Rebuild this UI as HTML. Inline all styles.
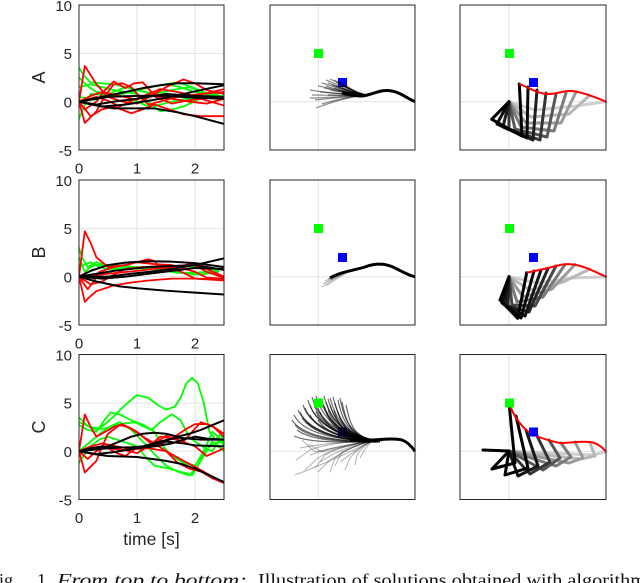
<!DOCTYPE html>
<html><head><meta charset="utf-8"><style>
html,body{margin:0;padding:0;background:#fff;}
svg{display:block;}
.tk{font-family:"Liberation Sans",Arial,sans-serif;font-size:15px;fill:#262626;}
.lb{font-family:"Liberation Sans",Arial,sans-serif;font-size:18px;fill:#262626;}
.cap{font-family:"Liberation Serif","Times New Roman",serif;font-size:18px;fill:#111;}
.box{fill:none;stroke:#262626;stroke-width:1;}
.gr{stroke:#e2e2e2;stroke-width:1;}
.d polyline{fill:none;vector-effect:non-scaling-stroke;stroke-linejoin:round;stroke-linecap:round;}
.g polyline{stroke:#00ff00;stroke-width:1.8;}
.r polyline{stroke:#ff0000;stroke-width:1.8;}
.k polyline{stroke:#000;stroke-width:2;}
.fan path{fill:none;stroke:#000;stroke-width:1.2;stroke-opacity:.45;}
.fanC path{fill:none;stroke:#000;stroke-width:1.2;stroke-opacity:.58;}
.fl path{fill:none;stroke:#000;stroke-width:1;stroke-opacity:.3;}
.arm polyline{fill:none;stroke-width:3;stroke-linejoin:round;stroke-linecap:round;}
</style></head><body>
<svg width="640" height="583" viewBox="0 0 640 583" xmlns="http://www.w3.org/2000/svg">
<defs>
<clipPath id="cA"><rect x="79" y="5" width="145" height="145"/></clipPath>
<clipPath id="cB"><rect x="79" y="180" width="145" height="145"/></clipPath>
<clipPath id="cC"><rect x="79" y="354.5" width="145" height="145"/></clipPath>
</defs>

<!-- ================= LEFT PANELS ================= -->
<!-- Row A -->
<g>
<line class="gr" x1="137" y1="5" x2="137" y2="150"/><line class="gr" x1="195" y1="5" x2="195" y2="150"/>
<line class="gr" x1="79" y1="53.33" x2="224" y2="53.33"/><line class="gr" x1="79" y1="101.67" x2="224" y2="101.67"/>
<g clip-path="url(#cA)"><g class="d" transform="translate(79,101.67) scale(58,-9.667)">
<g class="g">
<polyline points="0,3.5 0.1,2.6 0.2,2.0 0.4,1.9 0.6,1.8 0.8,1.5 1.0,1.2 1.25,1.5 1.5,1.8 1.7,2.0 1.95,1.5 2.2,0.8 2.35,0.3 2.5,0.3"/>
<polyline points="0,2.5 0.15,1.6 0.3,1.0 0.55,0.8 0.8,0.5 1.0,0 1.2,-0.5 1.4,-0.3 1.6,0 1.85,0.3 2.1,0.5 2.3,0.7 2.5,1.0"/>
<polyline points="0,1.5 0.2,1.8 0.4,1.5 0.6,1.2 0.8,1.0 1.0,0.8 1.2,0 1.4,-1.0 1.6,-0.8 1.8,-0.5 2.05,0.2 2.3,0.8 2.5,0.5"/>
<polyline points="0,-1.8 0.1,-0.3 0.2,0.8 0.4,0.7 0.6,0.6 0.9,1.0 1.2,1.5 1.5,1.8 1.75,1.5 2.0,1.0 2.25,0.7 2.5,0.5"/>
<polyline points="0,0.5 0.3,0.2 0.55,0.9 0.8,1.5 1.05,1.1 1.3,0.8 1.6,1.2 1.9,1.5 2.15,1.0 2.4,0.5 2.5,0.6"/>
</g>
<g class="r">
<polyline points="0,0 0.1,3.7 0.3,1.8 0.5,0.5 0.75,0 1.0,-0.2 1.25,0.6 1.5,1.5 1.8,2.3 2.0,1.9 2.2,1.2 2.5,0.8"/>
<polyline points="0,0 0.1,-2.2 0.3,-1.0 0.45,0.6 0.6,1.8 0.75,1.9 0.9,1.5 1.05,0.5 1.2,-0.3 1.45,0.1 1.7,0.5 2.1,0.8 2.5,1.0"/>
<polyline points="0,0 0.1,-0.8 0.3,0 0.45,1.2 0.6,2.1 0.8,1.4 0.95,1.9 1.1,2.0 1.25,1.0 1.4,0.5 1.9,0 2.2,-0.2 2.5,0.3"/>
<polyline points="0,0 0.2,-1.5 0.4,-0.8 0.6,-0.5 0.9,-1.2 1.1,-0.8 1.3,-0.3 1.55,-0.8 1.8,-1.3 2.1,-1.5 2.5,-1.5"/>
<polyline points="0,0 0.3,0.5 0.5,0.1 0.7,-0.5 0.95,0.2 1.2,0.8 1.4,0.3 1.6,-0.2 1.85,0.1 2.1,0.3 2.5,-0.4"/>
<polyline points="0,0 0.2,0.6 0.4,1.0 0.7,0.6 1.0,0.2 1.2,0.8 1.4,1.3 1.7,1.0 2.0,0.6 2.3,1.0 2.5,1.3"/>
</g>
<g class="k">
<polyline points="0,0 0.4,0.5 0.8,1.0 1.1,1.4 1.4,1.7 1.7,1.9 2.0,1.9 2.5,1.8"/>
<polyline points="0,0 0.4,-0.5 0.8,-0.3 1.2,0.1 1.5,0.4 1.8,0.8 2.1,1.2 2.5,1.7"/>
<polyline points="0,0 0.3,-0.4 0.6,-0.7 1.3,-0.7 1.7,-1.1 2.0,-1.5 2.5,-2.3"/>
<polyline points="0,0 0.5,0.5 1.0,0.6 1.5,0.6 2.0,0.4 2.5,0.3"/>
<polyline points="0,0 0.3,-0.3 0.6,0 1.0,0.3 1.5,0.8 2.0,0.6 2.5,0.5"/>
</g>
</g></g>
<rect class="box" x="79" y="5" width="145" height="145"/>
<text class="tk" x="72" y="10.8" text-anchor="end">10</text>
<text class="tk" x="72" y="59.1" text-anchor="end">5</text>
<text class="tk" x="72" y="107.4" text-anchor="end">0</text>
<text class="tk" x="72" y="155.8" text-anchor="end">-5</text>
<text class="tk" x="79" y="173.5" text-anchor="middle">0</text>
<text class="tk" x="137" y="173.5" text-anchor="middle">1</text>
<text class="tk" x="195" y="173.5" text-anchor="middle">2</text>
<text class="lb" transform="translate(45,77.5) rotate(-90)" text-anchor="middle">A</text>
</g>

<!-- Row B -->
<g>
<line class="gr" x1="137" y1="180" x2="137" y2="325"/><line class="gr" x1="195" y1="180" x2="195" y2="325"/>
<line class="gr" x1="79" y1="228.33" x2="224" y2="228.33"/><line class="gr" x1="79" y1="276.67" x2="224" y2="276.67"/>
<g clip-path="url(#cB)"><g class="d" transform="translate(79,276.67) scale(58,-9.667)">
<g class="g">
<polyline points="0,3.0 0.05,2.0 0.15,1.0 0.3,1.5 0.45,1.2 0.6,1.0 0.9,1.0 1.2,1.0 1.6,0.6 2.0,0.2 2.2,0.3 2.4,0.5"/>
<polyline points="0,2.0 0.1,0.5 0.2,1.0 0.3,1.2 0.5,1.2 0.8,1.1 1.1,0.9 1.4,0.8 1.8,1.1 2.1,0.9 2.4,0.7"/>
<polyline points="0,1.0 0.2,1.5 0.35,1.0 0.5,0.8 0.8,0.8 1.2,0.9 1.5,0.6 1.7,0.4 2.0,0.4 2.4,0.6"/>
</g>
<g class="r">
<polyline points="0,0 0.1,4.7 0.2,3.5 0.3,2.0 0.5,1.0 0.8,1.2 1.0,1.5 1.2,1.8 1.3,1.6 1.45,0.5 1.7,1.0 1.9,1.3 2.2,0.8 2.5,0"/>
<polyline points="0,0 0.1,-2.6 0.2,-2.0 0.3,-1.5 0.6,-0.9 0.9,-0.6 1.2,-0.4 1.6,-0.2 2.0,-0.2 2.5,-0.3"/>
<polyline points="0,0 0.15,-1.3 0.25,-0.5 0.35,0.5 0.6,1.0 0.8,1.2 1.0,1.5 1.3,1.3 1.6,1.2 2.0,0.5 2.2,-0.1 2.5,-0.2"/>
<polyline points="0,0 0.2,-0.8 0.4,-0.5 0.6,0.2 0.8,0.8 1.1,1.0 1.5,1.1 1.8,0.4 2.0,-0.2 2.5,-0.4"/>
<polyline points="0,0 0.5,0.3 1.0,0.6 1.4,0.9 1.7,1.0 2.0,1.2 2.2,0.5 2.5,-0.1"/>
</g>
<g class="k">
<polyline points="0,0 0.5,0 0.9,0.3 1.2,0.5 1.6,0.8 2.0,1.2 2.5,1.9"/>
<polyline points="0,0 0.2,0.6 0.5,1.2 0.8,1.45 1.2,1.6 1.6,1.55 2.0,1.4 2.5,1.0"/>
<polyline points="0,0 0.3,0.3 0.6,0.6 0.9,0.8 1.2,1.0 1.6,1.1 2.0,1.2 2.5,0.7"/>
<polyline points="0,0 0.3,-0.5 0.7,-1.0 1.0,-1.2 1.5,-1.45 2.0,-1.65 2.5,-1.85"/>
<polyline points="0,0 0.4,-0.2 0.8,0 1.2,0.3 1.6,0.6 2.0,0.9 2.5,0.8"/>
</g>
</g></g>
<rect class="box" x="79" y="180" width="145" height="145"/>
<text class="tk" x="72" y="185.8" text-anchor="end">10</text>
<text class="tk" x="72" y="234.1" text-anchor="end">5</text>
<text class="tk" x="72" y="282.4" text-anchor="end">0</text>
<text class="tk" x="72" y="330.8" text-anchor="end">-5</text>
<text class="tk" x="79" y="348.5" text-anchor="middle">0</text>
<text class="tk" x="137" y="348.5" text-anchor="middle">1</text>
<text class="tk" x="195" y="348.5" text-anchor="middle">2</text>
<text class="lb" transform="translate(45,252.5) rotate(-90)" text-anchor="middle">B</text>
</g>

<!-- Row C -->
<g>
<line class="gr" x1="137" y1="354.5" x2="137" y2="499.5"/><line class="gr" x1="195" y1="354.5" x2="195" y2="499.5"/>
<line class="gr" x1="79" y1="402.83" x2="224" y2="402.83"/><line class="gr" x1="79" y1="451.17" x2="224" y2="451.17"/>
<g clip-path="url(#cC)"><g class="d" transform="translate(79,451.17) scale(58,-9.667)">
<g class="g">
<polyline points="0,3.5 0.15,2.6 0.3,2.2 0.45,2.8 0.6,3.6 0.8,4.8 1.0,5.8 1.2,5.5 1.35,4.8 1.5,4.3 1.65,4.6 1.75,5.5 1.85,7.0 1.95,7.6 2.05,7.0 2.15,5.0 2.25,2.0 2.35,1.2 2.45,1.8 2.5,0.8"/>
<polyline points="0,2.7 0.15,2.2 0.3,2.0 0.45,3.3 0.55,4.0 0.7,3.8 0.9,3.2 1.1,2.6 1.25,2.2 1.4,3.0 1.6,3.8 1.75,3.2 1.9,1.5 2.0,1.0 2.2,0.2 2.3,0 2.4,1.0 2.5,1.5"/>
<polyline points="0,3.0 0.2,2.5 0.4,2.3 0.6,2.6 0.8,2.9 1.0,3.0 1.15,2.6 1.3,2.0 1.45,0.5 1.6,-0.5 1.8,-1.2 2.0,-1.5 2.15,0 2.3,2.0 2.4,1.5 2.5,0.5"/>
<polyline points="0,-1.2 0.1,-0.3 0.2,0.5 0.35,1.2 0.5,1.5 0.75,1.0 1.0,0.5 1.15,-0.6 1.3,-1.5 1.55,-1.8 1.8,-2.2 1.95,-2.5 2.05,-1.5 2.2,0 2.3,1.0 2.5,0"/>
<polyline points="0,0 0.2,1.0 0.4,2.0 0.55,2.6 0.7,3.0 0.9,2.2 1.1,1.0 1.3,-0.3 1.5,-1.5 1.7,-2.1 1.9,-2.5 2.05,-1.5 2.2,0.5 2.35,0.8 2.5,1.0"/>
</g>
<g class="r">
<polyline points="0,0 0.1,3.8 0.2,2.5 0.3,1.5 0.45,2.0 0.6,2.5 0.75,2.8 0.9,2.3 1.1,1.5 1.3,0.8 1.5,0 1.8,-1.0 2.0,-1.6 2.2,-2.3 2.5,-3.3"/>
<polyline points="0,0 0.1,-2.2 0.3,-1.0 0.4,0.5 0.5,1.8 0.7,2.7 0.85,2.5 1.0,2.0 1.2,1.0 1.35,0.5 1.5,1.0 1.65,1.5 1.85,2.3 2.0,2.8 2.2,2.8 2.35,2.4 2.5,1.8"/>
<polyline points="0,0 0.15,-0.8 0.3,0 0.45,0.5 0.65,-0.2 0.8,-0.5 1.0,0.4 1.2,0.3 1.5,0 1.7,-1.2 1.9,-1.8 2.1,-2.1 2.3,-2.8 2.5,-3.3"/>
<polyline points="0,0 0.3,0.2 0.5,0.3 0.8,0.1 1.0,-0.2 1.2,0.5 1.4,1.5 1.6,1.3 1.8,1.0 1.95,2.0 2.1,3.0 2.3,2.6 2.5,1.5"/>
<polyline points="0,0 0.2,0.5 0.4,0.8 0.65,0.5 0.9,0.2 1.2,0.3 1.35,1.0 1.5,1.6 1.7,1.2 2.0,0.5 2.2,-0.5 2.35,-0.1 2.5,0.3"/>
</g>
<g class="k">
<polyline points="0,0 0.3,0.2 0.5,0.5 0.7,1.0 0.9,1.5 1.1,1.8 1.3,1.9 1.5,1.8 1.7,1.5 1.9,1.8 2.1,2.2 2.3,2.7 2.5,3.2"/>
<polyline points="0,0 0.25,-0.3 0.5,-0.5 0.75,-0.55 1.0,-0.6 1.25,-0.8 1.5,-1.0 1.75,-1.3 2.0,-1.8 2.25,-2.5 2.5,-3.2"/>
<polyline points="0,0 0.3,0.2 0.6,0.35 0.9,0.4 1.1,0.5 1.4,1.0 1.7,1.4 1.9,1.3 2.1,1.2 2.5,1.2"/>
<polyline points="0,0 0.3,-0.3 0.6,-0.1 1.0,0.3 1.3,0.7 1.5,1.0 1.8,0.8 2.0,0.6 2.5,0.5"/>
<polyline points="0,0 0.2,0.3 0.4,0.5 0.7,0.4 1.0,0.3 1.3,0.5 1.6,0.8 1.8,1.2 2.0,1.5 2.2,1.3 2.5,1.2"/>
</g>
</g></g>
<rect class="box" x="79" y="354.5" width="145" height="145"/>
<text class="tk" x="72" y="360.3" text-anchor="end">10</text>
<text class="tk" x="72" y="408.6" text-anchor="end">5</text>
<text class="tk" x="72" y="456.9" text-anchor="end">0</text>
<text class="tk" x="72" y="505.3" text-anchor="end">-5</text>
<text class="tk" x="79" y="523" text-anchor="middle">0</text>
<text class="tk" x="137" y="523" text-anchor="middle">1</text>
<text class="tk" x="195" y="523" text-anchor="middle">2</text>
<text class="lb" transform="translate(45,427) rotate(-90)" text-anchor="middle">C</text>
<text class="tk" x="151.5" y="545" text-anchor="middle" style="font-size:17.5px">time [s]</text>
</g>

<!-- ================= MIDDLE PANELS ================= -->
<!-- A -->
<line class="gr" x1="318.3" y1="5" x2="318.3" y2="150"/><line class="gr" x1="270" y1="101.7" x2="415" y2="101.7"/>
<rect x="314" y="49" width="9" height="9" fill="#00ff00"/>
<rect x="338" y="78" width="9" height="9" fill="#0000ff"/>
<g class="fan">
<path d="M310 90 C322 92 348 95 368 95"/><path d="M312 95 C324 95 348 96 368 95"/><path d="M315 100 C326 99 350 96 368 95"/>
<path d="M318 86 C330 88 350 94 368 95"/><path d="M322 83 C334 86 352 94 368 95"/><path d="M326 80 C338 84 352 94 368 95"/>
<path d="M330 79 C340 83 354 94 368 95"/><path d="M334 80 C343 84 355 94 368 95"/><path d="M338 82 C346 86 356 94 368 95"/>
<path d="M310 98 C324 98 350 96 368 95"/><path d="M320 92 C332 93 350 95 368 95"/><path d="M322 104 C335 100 352 96 368 95"/>
<path d="M316 108 C332 102 352 96 368 95"/><path d="M324 88 C336 90 352 95 368 95"/><path d="M332 85 C342 88 354 95 368 95"/>
<path d="M336 86 C345 89 355 95 368 95"/><path d="M340 84 C348 88 356 94 368 95"/><path d="M342 88 C350 91 357 95 368 95"/>
<path d="M328 83 C338 86 353 94 368 95"/><path d="M336 82 C344 86 355 94 368 95"/><path d="M330 90 C340 92 354 95 368 95"/>
<path d="M326 86 C336 89 352 95 368 95"/><path d="M334 88 C343 90 355 95 368 95"/><path d="M338 90 C346 92 356 95 368 95"/>
<path d="M328 95 C340 95 354 96 368 95"/><path d="M344 92 C352 94 358 95 368 95"/><path d="M345 85 C352 89 358 94 368 95"/>
</g>
<path d="M342 93 Q355 96 362 96 C372 95 378 90 388 90.5 C398 91 405 97 415 101.7" fill="none" stroke="#000" stroke-width="3"/>
<rect class="box" x="270" y="5" width="145" height="145"/>

<!-- B -->
<line class="gr" x1="318.3" y1="180" x2="318.3" y2="325"/><line class="gr" x1="270" y1="276.7" x2="415" y2="276.7"/>
<rect x="314" y="224" width="9" height="9" fill="#00ff00"/>
<rect x="338" y="253" width="9" height="9" fill="#0000ff"/>
<g class="fl">
<path d="M322 287 Q332 280 345 273"/><path d="M323 284 Q333 278 345 272"/><path d="M325 281 Q335 276 345 272"/>
<path d="M326 286 Q338 278 348 272"/><path d="M328 279 Q338 275 348 271"/><path d="M331 280 Q340 274 350 271"/>
</g>
<path d="M330 278 C340 272 355 270 365 267 C375 263 385 263 395 268 C403 272 410 276 415 276.7" fill="none" stroke="#000" stroke-width="3"/>
<rect class="box" x="270" y="180" width="145" height="145"/>

<!-- C -->
<line class="gr" x1="318.3" y1="354.5" x2="318.3" y2="499.5"/><line class="gr" x1="270" y1="451.2" x2="415" y2="451.2"/>
<rect x="338" y="427.5" width="9" height="9" fill="#0000ff"/>
<g class="fl">
<path d="M296 460 L310 450 Q330 442 372 441"/><path d="M305 470 L318 458 Q338 445 372 441"/>
<path d="M315 468 L325 455 Q345 445 372 441"/><path d="M330 472 L335 458 Q350 446 372 441"/>
<path d="M345 470 L350 458 Q358 448 372 441"/><path d="M355 465 L357 455 Q362 447 372 441"/>
<path d="M300 448 Q330 442 372 441"/><path d="M310 455 Q335 446 372 441"/><path d="M320 462 Q340 448 372 441"/>
<path d="M340 462 Q355 450 372 441"/><path d="M360 458 Q365 448 372 441"/><path d="M302 440 L315 452 Q340 446 372 441"/>
<path d="M318 472 L330 460 Q350 447 372 441"/><path d="M295 475 Q330 462 372 441"/>
<path d="M308 444 L322 452 Q345 446 372 441"/><path d="M335 466 L342 452 Q356 445 372 441"/>
</g>
<g class="fanC">
<path d="M312 397 C318 419 340 438 378 441"/><path d="M316 396 C322 418 341 437 372 441"/><path d="M320 398 C326 420 342 437 380 441"/>
<path d="M324 396 C330 418 343 436 370 440"/><path d="M328 399 C334 420 344 436 378 441"/><path d="M333 397 C338 418 346 435 372 440"/>
<path d="M338 400 C342 420 348 435 376 441"/><path d="M342 402 C346 420 350 436 370 440"/><path d="M346 405 C350 422 352 436 374 441"/>
<path d="M308 400 C314 422 338 438 380 442"/><path d="M303 405 C310 426 336 439 376 442"/><path d="M298 410 C306 428 334 440 372 442"/>
<path d="M294 415 C302 432 332 440 378 442"/><path d="M300 412 C308 430 336 439 370 441"/><path d="M305 408 C312 426 338 438 375 441"/>
<path d="M326 402 C332 422 344 436 382 441"/><path d="M330 405 C336 424 345 436 372 440"/><path d="M335 403 C340 422 347 436 378 441"/>
<path d="M322 401 C328 421 342 437 375 441"/><path d="M314 404 C320 424 340 438 370 441"/><path d="M318 408 C324 426 341 438 380 441"/>
<path d="M340 398 C344 418 349 435 375 441"/><path d="M292 420 C302 436 334 441 375 442"/><path d="M295 425 C306 438 336 441 370 442"/>
<path d="M297 430 C310 440 338 442 378 442"/><path d="M294 436 C310 443 340 442 372 442"/><path d="M310 415 C318 430 340 439 375 441"/>
<path d="M318 420 C326 432 342 439 370 441"/><path d="M302 418 C312 432 338 440 380 442"/><path d="M326 412 C332 428 344 438 375 441"/>
<path d="M334 410 C338 426 346 437 372 440"/><path d="M310 405 C316 424 339 438 378 441"/><path d="M330 398 C336 419 345 436 375 441"/>
<path d="M320 412 C327 428 343 438 372 441"/><path d="M306 422 C316 434 340 440 376 442"/><path d="M338 412 C342 426 348 437 380 441"/>
<path d="M324 406 C330 424 343 437 376 441"/><path d="M316 412 C324 428 342 438 372 441"/><path d="M328 410 C334 426 345 437 378 441"/>
</g>
<path d="M350 440 C370 442 390 437 402 440 C408 442 412 447 415 451.2" fill="none" stroke="#000" stroke-width="3"/>
<rect x="314" y="398.5" width="9" height="9" fill="#00ff00"/>
<rect class="box" x="270" y="354.5" width="145" height="145"/>

<!-- ================= RIGHT PANELS ================= -->
<!-- A -->
<line class="gr" x1="509" y1="5" x2="509" y2="150"/><line class="gr" x1="460" y1="101.7" x2="606" y2="101.7"/>
<g class="arm">
<polyline stroke="#cfcfcf" points="509,101.7 535,110 576,106 606,101.7"/>
<polyline stroke="#b8b8b8" points="509,101.7 531,117 569,114 589,96"/>
<polyline stroke="#9a9a9a" points="509,101.7 526,123 561,123 576,92"/>
<polyline stroke="#7a7a7a" points="509,101.7 521,127 554,131 566,93"/>
<polyline stroke="#575757" points="509,101.7 515,129 547,137 556,94"/>
<polyline stroke="#353535" points="509,101.7 509,129 540,140 546,93"/>
<polyline stroke="#1e1e1e" points="509,101.7 503,127 533,140 537,90"/>
<polyline stroke="#0a0a0a" points="509,101.7 497,124 527,138 528,87"/>
<polyline stroke="#000" points="509,101.7 491.7,119.3 522,136 519.3,84"/>
</g>
<path d="M519.3 84 C530 88 538 94 548 94 C558 94 565 90 572 91 C582 92 595 97 606 101.7" fill="none" stroke="#ff0000" stroke-width="2"/>
<rect x="505" y="49" width="9" height="9" fill="#00ff00"/>
<rect x="529" y="78" width="9" height="9" fill="#0000ff"/>
<rect class="box" x="460" y="5" width="146" height="145"/>

<!-- B -->
<line class="gr" x1="509" y1="180" x2="509" y2="325"/><line class="gr" x1="460" y1="276.7" x2="606" y2="276.7"/>
<g class="arm">
<polyline stroke="#cfcfcf" points="509,276.7 538,283 573,278 606,276.7"/>
<polyline stroke="#b8b8b8" points="509,276.7 530,290 563,282 590,269"/>
<polyline stroke="#9a9a9a" points="509,276.7 523,297 552,289 575,264.5"/>
<polyline stroke="#7a7a7a" points="509,276.7 517,302 543,297 565,264.5"/>
<polyline stroke="#474747" points="509,276.7 512,305 535,306 556,266"/>
<polyline stroke="#252525" points="509,276.7 508,306 529,312 548,268.5"/>
<polyline stroke="#151515" points="509,276.7 505,305 525,316 541,270"/>
<polyline stroke="#0a0a0a" points="509,276.7 502,303 521,318 534,271"/>
<polyline stroke="#000" points="509,276.7 500,300 517.7,318.3 526.7,272.7"/>
</g>
<path d="M526.7 272.7 C540 270 552 267 560 265 C565 264 570 264 573 264.5 C585 266 595 272 606 276.7" fill="none" stroke="#ff0000" stroke-width="2"/>
<rect x="505" y="224" width="9" height="9" fill="#00ff00"/>
<rect x="529" y="253" width="9" height="9" fill="#0000ff"/>
<rect class="box" x="460" y="180" width="146" height="145"/>

<!-- C -->
<line class="gr" x1="509" y1="354.5" x2="509" y2="499.5"/><line class="gr" x1="460" y1="451.2" x2="606" y2="451.2"/>
<g class="arm">
<polyline stroke="#cfcfcf" points="509,451 592,455 606,452"/>
<polyline stroke="#b8b8b8" points="509,451 581,459 595,456 590,443"/>
<polyline stroke="#9a9a9a" points="509,451 569,463 583,458 575,442"/>
<polyline stroke="#7a7a7a" points="509,451 556,466 571,457 561,443"/>
<polyline stroke="#575757" points="509,451 543,470 560,458 549,440"/>
<polyline stroke="#353535" points="509,451 530,474 550,462 537,436"/>
<polyline stroke="#151515" points="509,451 518,476 538,466 526,430"/>
<polyline stroke="#000" points="509,451 505,475 528,468 516,416"/>
<polyline stroke="#000" points="483,450 509,451 492,469 515,463 509,403.3"/>
</g>
<path d="M509.3 403.3 C512 412 518 422 526 430 C532 435 545 440 560 443 C570 443 580 441 590 442 C598 443 603 448 606 451.7" fill="none" stroke="#ff0000" stroke-width="2"/>
<rect x="505" y="398.5" width="9" height="9" fill="#00ff00"/>
<rect x="529" y="427.5" width="9" height="9" fill="#0000ff"/>
<rect class="box" x="460" y="354.5" width="146" height="145"/>

<!-- ================= CAPTION ================= -->
<text class="cap" x="-11" y="586">Fig.</text>
<text class="cap" x="37" y="586">1.</text>
<text class="cap" x="57" y="586" font-style="italic" textLength="190" lengthAdjust="spacingAndGlyphs">From top to bottom:</text>
<text class="cap" x="258" y="586" textLength="388" lengthAdjust="spacingAndGlyphs">Illustration of solutions obtained with algorithm</text>
</svg>
</body></html>
